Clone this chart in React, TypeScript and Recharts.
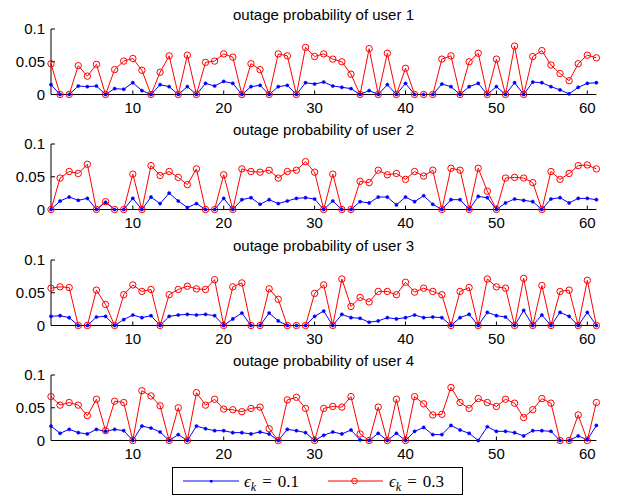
import { LineChart, Line, XAxis, YAxis } from 'recharts';

// sample index 1..61
const xIndex = Array.from({ length: 61 }, (_, i) => i + 1);
const xTicks = [10, 20, 30, 40, 50, 60];
const yTicks = [0, 0.05, 0.1];

// epsilon_k = 0.1 (blue) and epsilon_k = 0.3 (red) per user
const blue1 = [0.015, 0, 0, 0.013, 0.012, 0.013, 0, 0.009, 0.008, 0.018, 0.006, 0, 0.015, 0.012, 0, 0.012, 0, 0.017, 0.013, 0.02, 0.017, 0, 0.012, 0.014, 0, 0.012, 0.014, 0, 0.018, 0.016, 0.019, 0.013, 0.011, 0.009, 0, 0.006, 0, 0.015, 0, 0.017, 0, 0, 0, 0.016, 0.012, 0, 0.012, 0.017, 0, 0.012, 0, 0.018, 0, 0.019, 0.018, 0.012, 0.007, 0.001, 0.011, 0.017, 0.018];
const red1 = [0.047, 0, 0, 0.044, 0.028, 0.046, 0, 0.038, 0.051, 0.055, 0.037, 0, 0.034, 0.059, 0, 0.06, 0, 0.049, 0.051, 0.062, 0.057, 0, 0.047, 0.038, 0, 0.062, 0.059, 0, 0.072, 0.058, 0.062, 0.054, 0.05, 0.031, 0, 0.07, 0, 0.063, 0, 0.04, 0, 0, 0, 0.054, 0.059, 0, 0.05, 0.063, 0, 0.054, 0, 0.074, 0, 0.058, 0.067, 0.045, 0.032, 0.021, 0.047, 0.06, 0.056];

const blue2 = [0, 0.013, 0.019, 0.014, 0.017, 0, 0.011, 0, 0, 0.017, 0, 0.019, 0.009, 0.025, 0.013, 0.003, 0.009, 0, 0, 0.017, 0, 0.015, 0.018, 0.008, 0.015, 0.009, 0.013, 0.017, 0.018, 0.016, 0, 0.013, 0, 0, 0.012, 0.01, 0.019, 0.019, 0.007, 0.019, 0.012, 0.021, 0.008, 0, 0.015, 0.015, 0, 0.02, 0.018, 0, 0.01, 0.016, 0.014, 0.012, 0, 0.016, 0.018, 0.01, 0.017, 0.017, 0.015];
const red2 = [0, 0.048, 0.058, 0.055, 0.069, 0, 0.012, 0, 0, 0.054, 0, 0.067, 0.052, 0.058, 0.049, 0.038, 0.062, 0, 0, 0.053, 0, 0.062, 0.058, 0.057, 0.06, 0.048, 0.058, 0.06, 0.073, 0.057, 0, 0.054, 0, 0, 0.043, 0.041, 0.06, 0.053, 0.055, 0.046, 0.058, 0.051, 0.06, 0, 0.063, 0.06, 0, 0.063, 0.028, 0, 0.048, 0.049, 0.048, 0.041, 0, 0.058, 0.046, 0.055, 0.067, 0.068, 0.062];

const blue3 = [0.014, 0.015, 0.012, 0, 0, 0.013, 0.014, 0, 0.009, 0.016, 0.012, 0.015, 0, 0.014, 0.016, 0.017, 0.016, 0.017, 0.015, 0, 0.01, 0.019, 0, 0, 0.019, 0.007, 0, 0, 0, 0.014, 0.022, 0, 0.017, 0.012, 0.011, 0.005, 0.007, 0.012, 0.01, 0.012, 0.016, 0.012, 0.013, 0.012, 0, 0.012, 0.017, 0, 0.02, 0.015, 0.013, 0, 0.023, 0, 0.016, 0, 0.02, 0.014, 0, 0.02, 0];
const red3 = [0.057, 0.059, 0.058, 0, 0, 0.054, 0.032, 0, 0.047, 0.062, 0.052, 0.055, 0, 0.047, 0.055, 0.06, 0.056, 0.055, 0.07, 0, 0.059, 0.065, 0, 0, 0.056, 0.04, 0, 0, 0, 0.049, 0.062, 0, 0.071, 0.029, 0.043, 0.036, 0.052, 0.052, 0.047, 0.066, 0.051, 0.057, 0.052, 0.047, 0, 0.052, 0.058, 0, 0.071, 0.059, 0.057, 0, 0.072, 0, 0.061, 0, 0.052, 0.054, 0, 0.069, 0];

const blue4 = [0.022, 0.011, 0.017, 0.012, 0.01, 0.017, 0.014, 0.017, 0.015, 0, 0.022, 0.019, 0.013, 0, 0.009, 0, 0.022, 0.018, 0.015, 0.015, 0.012, 0.012, 0.01, 0.013, 0.01, 0, 0.017, 0.015, 0.012, 0, 0.008, 0.013, 0.01, 0.016, 0.001, 0, 0.011, 0, 0.011, 0, 0.014, 0.02, 0.009, 0.009, 0.023, 0.016, 0.011, 0, 0.021, 0.014, 0.014, 0.012, 0.007, 0.015, 0.015, 0.014, 0, 0, 0.007, 0.001, 0.023];
const red4 = [0.067, 0.054, 0.058, 0.054, 0.038, 0.063, 0.015, 0.06, 0.058, 0, 0.076, 0.068, 0.053, 0, 0.05, 0, 0.073, 0.054, 0.063, 0.048, 0.047, 0.044, 0.049, 0.051, 0.018, 0, 0.062, 0.066, 0.049, 0, 0.049, 0.052, 0.051, 0.067, 0.01, 0, 0.051, 0, 0.063, 0, 0.067, 0.056, 0.039, 0.04, 0.081, 0.058, 0.049, 0.064, 0.058, 0.052, 0.063, 0.057, 0.035, 0.047, 0.064, 0.057, 0, 0, 0.039, 0, 0.058];

const FONT = '"Liberation Sans", Arial, Helvetica, sans-serif';
const tickStyle = { fill: '#000', fontSize: 15, fontFamily: FONT };

interface PanelProps {
  user: number;
  low: number[];
  high: number[];
  plotTop: number;
}

function Panel({ user, low, high, plotTop }: PanelProps) {
  const data = xIndex.map((x, i) => ({ x, low: low[i], high: high[i] }));

  return (
    <div style={{ position: 'absolute', left: 0, top: plotTop - 28, width: 617, height: 116 }}>
      <div
        style={{
          position: 'absolute',
          left: 51,
          width: 545,
          top: 5,
          textAlign: 'center',
          fontFamily: FONT,
          fontSize: 15,
          lineHeight: '17px',
          color: '#000',
        }}
      >
        outage probability of user {user}
      </div>
      <LineChart width={617} height={115.5} data={data} margin={{ top: 28, right: 20.6, left: 11, bottom: 2 }}>
        <XAxis
          xAxisId="bottom"
          dataKey="x"
          type="number"
          domain={[1, 61]}
          ticks={xTicks}
          interval={0}
          height={20}
          stroke="#000"
          tickSize={-4}
          tickMargin={12}
          tick={tickStyle}
        />
        <XAxis
          xAxisId="top"
          orientation="top"
          dataKey="x"
          type="number"
          domain={[1, 61]}
          ticks={xTicks}
          interval={0}
          height={0}
          stroke="#000"
          tickSize={-4}
          tick={false}
        />
        <YAxis
          yAxisId="left"
          type="number"
          domain={[0, 0.1]}
          ticks={yTicks}
          interval={0}
          width={40}
          stroke="#000"
          tickSize={-4}
          tickMargin={10}
          tick={tickStyle}
        />
        <YAxis
          yAxisId="right"
          orientation="right"
          type="number"
          domain={[0, 0.1]}
          ticks={yTicks}
          interval={0}
          width={0}
          stroke="#000"
          tickSize={-4}
          tick={false}
        />
        <Line
          xAxisId="bottom"
          yAxisId="left"
          type="linear"
          dataKey="low"
          stroke="#0000ff"
          strokeWidth={1}
          dot={{ r: 1.6, fill: '#0000ff', stroke: '#0000ff', strokeWidth: 0.5 }}
          activeDot={false}
          isAnimationActive={false}
        />
        <Line
          xAxisId="bottom"
          yAxisId="left"
          type="linear"
          dataKey="high"
          stroke="#ff0000"
          strokeWidth={1}
          dot={{ r: 3.2, fill: 'none', stroke: '#ff0000', strokeWidth: 1 }}
          activeDot={false}
          isAnimationActive={false}
        />
      </LineChart>
    </div>
  );
}

function LegendBox() {
  const serif = '"Liberation Serif", "DejaVu Serif", serif';
  const label = (x: number, value: string) => (
    <text x={x} y={19} fontFamily={serif} fontSize={17} fill="#000">
      <tspan fontStyle="italic">ϵ</tspan>
      <tspan fontStyle="italic" fontSize={12} dy={4}>k</tspan>
      <tspan dy={-4} dx={6}>=</tspan>
      <tspan dx={6}>{value}</tspan>
    </text>
  );
  return (
    <div
      style={{
        position: 'absolute',
        left: 172,
        top: 467,
        width: 289,
        height: 26,
        border: '1px solid #000',
        background: '#fff',
      }}
    >
      <svg width={289} height={26}>
        <line x1={10} x2={66} y1={13} y2={13} stroke="#0000ff" strokeWidth={1} />
        <rect x={37} y={12} width={2.5} height={2.5} fill="#0000ff" />
        {label(71, '0.1')}
        <line x1={155} x2={210} y1={13} y2={13} stroke="#ff0000" strokeWidth={1} />
        <circle cx={181.5} cy={13} r={2.8} fill="none" stroke="#ff0000" strokeWidth={1} />
        {label(216, '0.3')}
      </svg>
    </div>
  );
}

export default function App() {
  return (
    <div style={{ position: 'fixed', left: 0, top: 0, width: 617, height: 495, background: '#fff', overflow: 'hidden' }}>
      <Panel user={1} low={blue1} high={red1} plotTop={28.5} />
      <Panel user={2} low={blue2} high={red2} plotTop={144} />
      <Panel user={3} low={blue3} high={red3} plotTop={259.5} />
      <Panel user={4} low={blue4} high={red4} plotTop={375} />
      <LegendBox />
    </div>
  );
}
